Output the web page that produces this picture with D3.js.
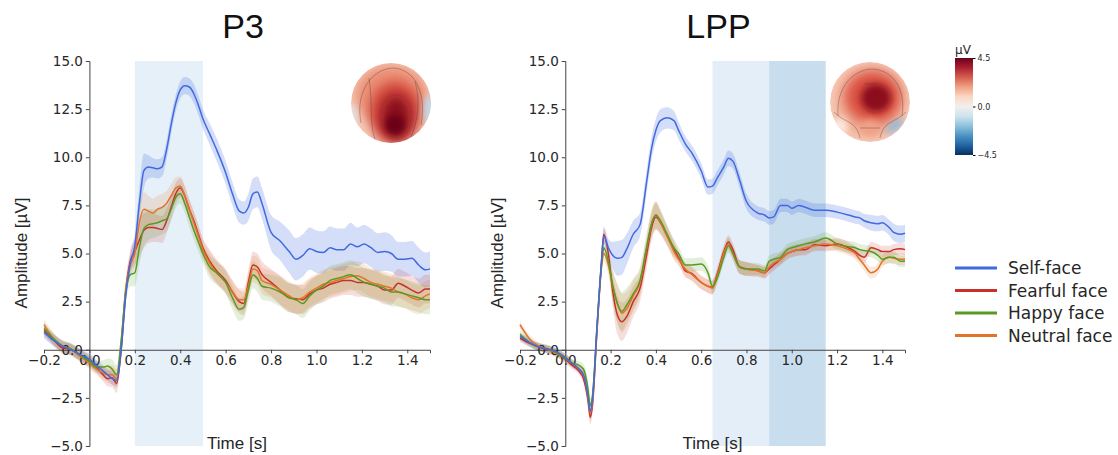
<!DOCTYPE html>
<html>
<head>
<meta charset="utf-8">
<script src="https://cdn.jsdelivr.net/npm/d3@7"></script>
<style>
  body { margin: 0; background: #fff; }
  svg { display: block; }
  .tick text { font-family: "DejaVu Sans", sans-serif; font-size: 13.5px; fill: #262626; }
</style>
</head>
<body>
<div id="canvas"></div>
<script>
// ---- data ----
const conditions = ["Self-face", "Fearful face", "Happy face", "Neutral face"];
const colors = ["#4169e1", "#c8302a", "#5a9a22", "#e2742a"];
const xTicks = [-0.2, 0, 0.2, 0.4, 0.6, 0.8, 1.0, 1.2, 1.4];
const yTicks = [-5, -2.5, 0, 2.5, 5, 7.5, 10, 12.5, 15];
const cbarTicks = [4.5, 0, -4.5];

// P3 panel
const p3Time = [-0.2,-0.16,-0.12,-0.08,-0.04,0,0.03,0.06,0.08,0.1,0.12,0.14,0.16,0.18,0.2,0.22,0.24,0.26,0.28,0.3,
  0.32,0.34,0.36,0.38,0.4,0.42,0.44,0.46,0.48,0.5,0.53,0.56,0.6,0.63,0.66,0.68,0.7,0.72,0.74,0.76,
  0.8,0.84,0.88,0.91,0.94,0.97,1.0,1.03,1.06,1.09,1.12,1.15,1.18,1.21,1.24,1.27,1.3,1.33,1.36,1.39,
  1.42,1.45,1.48,1.5];
const p3Self = [0.9,0.5,0.2,0.0,-0.25,-0.5,-0.8,-1.1,-1.3,-1.5,-1.6,0.0,2.8,4.5,5.4,7.6,9.3,9.5,9.45,9.4,
  9.5,10.4,11.7,12.8,13.5,13.72,13.65,13.3,12.7,12.0,11.2,10.4,9.2,8.1,7.2,7.1,7.4,8.1,8.2,7.6,
  6.1,5.65,5.1,4.7,4.9,5.25,5.1,5.05,5.3,5.2,5.2,5.5,5.35,5.5,5.3,5.05,5.1,5.0,4.7,4.7,
  4.75,4.4,4.15,4.2];
const p3Fearful = [1.0,0.55,0.1,0.0,-0.3,-0.6,-0.9,-1.3,-1.5,-1.45,-1.75,0.0,3.0,4.6,5.1,5.7,6.2,6.35,6.35,6.3,
  6.25,6.7,7.4,8.1,8.4,8.0,7.3,6.7,6.0,5.3,4.6,4.1,3.6,3.0,2.5,2.4,3.5,4.4,4.3,3.9,
  3.5,3.1,2.7,2.65,2.6,2.9,3.1,3.2,3.4,3.5,3.6,3.6,3.5,3.5,3.4,3.3,3.1,3.1,3.45,3.3,
  3.1,2.95,3.15,3.15];
const p3Happy = [1.1,0.6,0.2,0.05,-0.3,-0.6,-0.9,-0.9,-0.85,-1.0,-1.3,0.5,3.0,3.9,4.0,5.3,6.3,6.5,6.55,6.6,
  6.7,6.8,7.3,7.9,8.1,7.6,6.9,6.2,5.6,5.0,4.3,4.0,3.5,2.7,2.1,2.2,3.1,3.9,3.7,3.3,
  3.2,3.0,2.7,2.6,2.4,2.8,3.1,3.3,3.6,3.7,3.8,3.9,3.7,3.5,3.4,3.3,3.2,3.0,3.0,2.9,
  2.8,2.7,2.6,2.6];
const p3Neutral = [1.3,0.6,0.2,0.0,-0.35,-0.7,-1.0,-1.2,-1.3,-1.3,-1.5,0.3,3.2,4.4,5.0,6.6,7.3,7.2,7.1,7.3,
  7.4,7.6,8.0,8.4,8.5,8.0,7.3,6.6,5.9,5.2,4.5,4.0,3.5,3.0,2.6,2.6,3.3,4.2,4.1,3.6,
  3.4,3.1,2.8,2.6,2.7,3.0,3.2,3.4,3.5,3.6,3.7,3.8,3.85,3.7,3.5,3.4,3.3,3.2,3.0,2.9,
  2.7,2.6,2.8,2.9];
const p3SelfBand = [0.3,0.3,0.3,0.3,0.3,0.3,0.3,0.3,0.3,0.3,0.3,0.3,0.4,0.5,0.6,0.8,0.9,0.6,0.5,0.5,
  0.5,0.5,0.5,0.45,0.45,0.45,0.45,0.5,0.5,0.5,0.55,0.6,0.6,0.6,0.6,0.6,0.7,0.8,0.8,0.8,
  0.9,1.0,1.1,1.1,1.1,1.1,1.1,1.1,1.1,1.1,1.1,1.1,1.0,1.0,1.0,1.0,1.0,0.95,0.9,0.9,
  0.9,0.9,0.9,0.9];
const p3OtherBand = [0.3,0.3,0.3,0.3,0.3,0.3,0.3,0.35,0.4,0.5,0.5,0.4,0.5,0.6,0.7,0.9,0.9,0.8,0.75,0.7,
  0.7,0.65,0.6,0.55,0.5,0.5,0.5,0.5,0.5,0.5,0.6,0.6,0.6,0.6,0.6,0.6,0.65,0.7,0.7,0.7,
  0.7,0.75,0.75,0.75,0.75,0.75,0.75,0.75,0.75,0.75,0.75,0.75,0.75,0.75,0.75,0.75,0.75,0.75,0.75,0.75,
  0.75,0.75,0.75,0.75];

// LPP panel
const lppTime = [-0.2,-0.16,-0.12,-0.08,-0.04,0,0.03,0.06,0.08,0.1,0.11,0.12,0.14,0.16,0.17,0.19,0.21,0.23,0.25,0.27,
  0.3,0.33,0.36,0.38,0.4,0.42,0.45,0.48,0.5,0.53,0.56,0.6,0.63,0.65,0.67,0.7,0.72,0.74,0.77,0.8,
  0.85,0.88,0.9,0.92,0.95,0.98,1.0,1.03,1.06,1.1,1.15,1.2,1.25,1.28,1.3,1.32,1.35,1.38,1.4,1.43,
  1.45,1.48,1.5];
const lppSelf = [0.7,0.4,0.15,0.05,-0.1,-0.4,-0.7,-1.0,-1.3,-2.4,-3.2,-2.6,1.2,4.6,5.9,5.3,4.9,4.75,4.8,5.2,
  6.0,6.5,8.8,10.4,11.4,11.9,12.05,11.9,11.4,10.7,10.2,9.3,8.45,8.5,8.9,9.5,9.95,9.8,8.8,7.7,
  7.1,7.0,6.85,6.9,7.5,7.5,7.35,7.5,7.4,7.25,7.25,7.15,7.0,6.9,6.85,6.7,6.6,6.55,6.6,6.35,
  6.1,6.0,6.05];
const lppFearful = [0.6,0.35,0.15,0.0,-0.15,-0.5,-0.8,-1.1,-1.5,-2.6,-3.5,-2.9,1.0,4.6,6.0,5.0,3.0,1.8,1.45,1.7,
  2.5,3.2,5.0,6.3,6.9,6.6,5.9,5.2,4.8,4.1,3.95,3.5,3.3,3.25,3.9,5.1,5.6,5.2,4.3,4.2,
  4.1,4.0,4.2,4.4,4.7,5.0,5.1,5.2,5.2,5.45,5.4,5.5,5.3,5.1,4.9,4.8,5.3,5.2,5.1,5.1,
  5.2,5.25,5.2];
const lppHappy = [0.8,0.4,0.15,0.05,-0.15,-0.45,-0.7,-0.8,-1.0,-2.0,-2.9,-2.4,1.2,4.4,5.3,4.6,3.3,2.4,2.0,2.3,
  2.9,3.6,5.4,6.5,7.0,6.7,6.0,5.3,5.0,4.4,4.4,4.45,4.0,3.3,3.7,4.8,5.4,5.0,4.3,4.2,
  4.2,4.1,4.6,4.7,4.8,5.2,5.3,5.4,5.5,5.6,5.8,5.5,5.35,5.3,5.2,5.15,5.1,4.9,4.7,4.8,
  4.8,4.6,4.6];
const lppNeutral = [1.3,0.6,0.2,0.05,-0.2,-0.4,-0.7,-1.0,-1.3,-2.4,-3.3,-2.7,1.0,4.3,5.0,4.4,3.3,2.4,1.9,2.1,
  2.8,3.5,5.3,6.5,7.0,6.6,5.9,5.1,4.7,4.2,3.9,3.5,3.3,3.2,3.8,5.0,5.5,5.0,4.3,4.2,
  4.1,4.0,4.3,4.5,4.7,5.0,5.1,5.2,5.3,5.4,5.5,5.4,5.2,5.0,4.7,4.4,4.0,4.2,4.6,4.8,
  4.75,4.7,4.7];
const lppSelfBand = [0.2,0.2,0.2,0.2,0.2,0.2,0.2,0.2,0.25,0.4,0.4,0.4,0.4,0.4,0.4,0.45,0.7,0.9,0.9,0.8,
  0.7,0.6,0.6,0.6,0.6,0.6,0.55,0.5,0.45,0.4,0.4,0.4,0.4,0.4,0.4,0.4,0.4,0.4,0.4,0.4,
  0.35,0.35,0.35,0.35,0.35,0.35,0.35,0.35,0.35,0.35,0.35,0.35,0.35,0.35,0.35,0.35,0.4,0.4,0.4,0.4,
  0.45,0.45,0.45];
const lppOtherBand = [0.2,0.2,0.2,0.2,0.2,0.2,0.2,0.2,0.25,0.4,0.4,0.4,0.4,0.4,0.4,0.5,0.8,1.0,1.0,0.9,
  0.8,0.7,0.7,0.7,0.7,0.6,0.5,0.45,0.35,0.35,0.35,0.35,0.35,0.35,0.35,0.35,0.35,0.35,0.35,0.35,
  0.3,0.3,0.3,0.3,0.3,0.3,0.3,0.3,0.3,0.3,0.3,0.3,0.3,0.3,0.3,0.3,0.3,0.3,0.3,0.3,
  0.3,0.3,0.3];

// shaded windows [start, end, colour]
const p3Windows = [[0.2, 0.5, "#e6f0f9"]];
const lppWindows = [[0.65, 0.9, "#e4eef8"], [0.9, 1.15, "#c8ddee"]];

const width = 1118;
const height = 455;

const svg = d3.select("#canvas").append("svg")
  .attr("width", width)
  .attr("height", height);

const defs = svg.append("defs");
defs.append("filter").attr("id", "blur6").attr("x", "-50%").attr("y", "-50%").attr("width", "200%").attr("height", "200%")
  .append("feGaussianBlur").attr("stdDeviation", 6);
defs.append("filter").attr("id", "blur3").attr("x", "-50%").attr("y", "-50%").attr("width", "200%").attr("height", "200%")
  .append("feGaussianBlur").attr("stdDeviation", 3);

const panels = [
  { title: "P3", time: p3Time, series: [p3Self, p3Fearful, p3Happy, p3Neutral],
    bands: [p3SelfBand, p3OtherBand, p3OtherBand, p3OtherBand], windows: p3Windows,
    left: 44, right: 430, ylab: 21, topo: { cx: 391, cy: 103, r: 40 }, kind: "p3" },
  { title: "LPP", time: lppTime, series: [lppSelf, lppFearful, lppHappy, lppNeutral],
    bands: [lppSelfBand, lppOtherBand, lppOtherBand, lppOtherBand], windows: lppWindows,
    left: 520, right: 905, ylab: 497, topo: { cx: 870, cy: 102, r: 40 }, kind: "lpp" }
];

panels.forEach((p, pi) => {
  const x = d3.scaleLinear().domain([-0.2, 1.5]).range([p.left, p.right]);
  const y = d3.scaleLinear().domain([-5, 15]).range([446, 61]);
  const g = svg.append("g");

  // highlighted time windows
  g.selectAll("rect.win").data(p.windows).enter().append("rect")
    .attr("class", "win")
    .attr("x", d => x(d[0]))
    .attr("width", d => x(d[1]) - x(d[0]))
    .attr("y", y(15))
    .attr("height", y(-5) - y(15))
    .style("fill", d => d[2]);

  // confidence bands
  const area = (vals, band) => d3.area()
    .curve(d3.curveMonotoneX)
    .x((d, i) => x(p.time[i]))
    .y0((d, i) => y(vals[i] - band[i]))
    .y1((d, i) => y(vals[i] + band[i]));

  p.series.forEach((vals, k) => {
    g.append("path")
      .attr("d", area(vals, p.bands[k])(vals))
      .style("fill", colors[k])
      .style("opacity", k === 0 ? 0.22 : 0.16);
  });

  // axes (spines sit at zero)
  g.append("g")
    .attr("transform", `translate(0,${y(0)})`)
    .call(d3.axisBottom(x).tickValues(xTicks).tickFormat(d3.format(".1f")).tickSize(3.5).tickPadding(2))
    .call(a => a.select(".domain").attr("stroke", "#444"))
    .call(a => a.selectAll(".tick line").attr("stroke", "#444"));

  g.append("g")
    .attr("transform", `translate(${x(0)},0)`)
    .call(d3.axisLeft(y).tickValues(yTicks).tickFormat(d3.format(".1f")).tickSize(3.5).tickPadding(3))
    .call(a => a.select(".domain").attr("stroke", "#444"))
    .call(a => a.selectAll(".tick line").attr("stroke", "#444"));

  // mean waveforms
  const line = d3.line()
    .curve(d3.curveMonotoneX)
    .x((d, i) => x(p.time[i]))
    .y(d => y(d));

  [1, 3, 2, 0].forEach(k => {
    g.append("path")
      .attr("d", line(p.series[k]))
      .style("fill", "none")
      .style("stroke", colors[k])
      .style("stroke-width", 1.5)
      .style("stroke-linejoin", "round");
  });

  // labels
  g.append("text")
    .attr("x", (p.left + p.right) / 2 + 6)
    .attr("y", 38)
    .attr("text-anchor", "middle")
    .style("font-family", "Liberation Sans, Arial, sans-serif")
    .style("font-size", "34px")
    .style("fill", "#111")
    .text(p.title);

  g.append("text")
    .attr("transform", `translate(${p.ylab},253) rotate(-90)`)
    .attr("text-anchor", "middle")
    .attr("dominant-baseline", "central")
    .style("font-family", "Liberation Sans, Arial, sans-serif")
    .style("font-size", "17px")
    .style("fill", "#262626")
    .text("Amplitude [µV]");

  g.append("text")
    .attr("x", (p.left + p.right) / 2)
    .attr("y", 449)
    .attr("text-anchor", "middle")
    .style("font-family", "Liberation Sans, Arial, sans-serif")
    .style("font-size", "17px")
    .style("fill", "#262626")
    .text("Time [s]");

  // scalp topography inset
  const t = p.topo;
  const clipId = "clip" + pi;
  defs.append("clipPath").attr("id", clipId)
    .append("circle").attr("cx", t.cx).attr("cy", t.cy).attr("r", t.r);
  const tg = g.append("g").attr("clip-path", `url(#${clipId})`);
  tg.append("circle").attr("cx", t.cx).attr("cy", t.cy).attr("r", t.r).style("fill", "#f6cbb8");

  const blobs = p.kind === "p3" ? [
    { dx: 0, dy: -8, rx: 36, ry: 30, c: "#eb8f74", f: "blur6" },
    { dx: 4, dy: 10, rx: 26, ry: 32, c: "#d2483c", f: "blur6" },
    { dx: 5, dy: 14, rx: 15, ry: 22, c: "#8a0a1c", f: "blur6" },
    { dx: 4, dy: 22, rx: 10, ry: 10, c: "#6a0016", f: "blur3" },
    { dx: 38, dy: 6, rx: 5, ry: 14, c: "#bcd9ea", f: "blur3" },
    { dx: -39, dy: 12, rx: 4, ry: 10, c: "#d9e8f1", f: "blur3" }
  ] : [
    { dx: 0, dy: 0, rx: 34, ry: 36, c: "#f1ad94", f: "blur6" },
    { dx: 3, dy: -5, rx: 28, ry: 26, c: "#d9503f", f: "blur6" },
    { dx: 6, dy: -4, rx: 15, ry: 14, c: "#8c0b1f", f: "blur3" },
    { dx: 0, dy: 26, rx: 10, ry: 8, c: "#f0a287", f: "blur3" },
    { dx: 25, dy: 24, rx: 11, ry: 4, c: "#8cbcdc", f: "blur3", rot: -35 },
    { dx: -30, dy: 24, rx: 8, ry: 8, c: "#fbe6dc", f: "blur3" }
  ];
  blobs.forEach(b => {
    tg.append("ellipse")
      .attr("cx", t.cx + b.dx).attr("cy", t.cy + b.dy)
      .attr("rx", b.rx).attr("ry", b.ry)
      .attr("transform", b.rot ? `rotate(${b.rot},${t.cx + b.dx},${t.cy + b.dy})` : null)
      .attr("filter", `url(#${b.f})`)
      .style("fill", b.c);
  });
  // faint sensor outlines
  const outline = p.kind === "p3" ? [
    `M${t.cx - 30},${t.cy + 20} C${t.cx - 36},${t.cy - 10} ${t.cx - 20},${t.cy - 34} ${t.cx + 2},${t.cy - 35} C${t.cx + 24},${t.cy - 34} ${t.cx + 36},${t.cy - 10} ${t.cx + 30},${t.cy + 22}`,
    `M${t.cx - 22},${t.cy - 25} C${t.cx - 18},${t.cy} ${t.cx - 22},${t.cy + 20} ${t.cx - 16},${t.cy + 36}`,
    `M${t.cx + 24},${t.cy - 22} C${t.cx + 30},${t.cy} ${t.cx + 26},${t.cy + 20} ${t.cx + 20},${t.cy + 34}`
  ] : [
    `M${t.cx - 32},${t.cy + 14} C${t.cx - 34},${t.cy - 14} ${t.cx - 18},${t.cy - 32} ${t.cx + 2},${t.cy - 33} C${t.cx + 24},${t.cy - 32} ${t.cx + 36},${t.cy - 12} ${t.cx + 32},${t.cy + 14}`,
    `M${t.cx - 36},${t.cy + 10} C${t.cx - 24},${t.cy + 22} ${t.cx - 14},${t.cy + 18} ${t.cx - 10},${t.cy + 36}`,
    `M${t.cx + 36},${t.cy + 10} C${t.cx + 24},${t.cy + 22} ${t.cx + 14},${t.cy + 18} ${t.cx + 10},${t.cy + 36}`,
    `M${t.cx - 10},${t.cy + 26} L${t.cx + 10},${t.cy + 26}`,
    `M${t.cx - 6},${t.cy - 18} L${t.cx + 8},${t.cy - 18}`
  ];
  tg.selectAll("path.ol").data(outline).enter().append("path")
    .attr("class", "ol")
    .attr("d", d => d)
    .style("fill", "none")
    .style("stroke", "#4a3a3a")
    .style("stroke-width", 0.6)
    .style("opacity", 0.6);
});

// colorbar
const cbY = d3.scaleLinear().domain([-4.5, 4.5]).range([155, 58]);
const grad = defs.append("linearGradient").attr("id", "cbar")
  .attr("x1", 0).attr("y1", 1).attr("x2", 0).attr("y2", 0);
d3.range(0, 1.0001, 0.1).forEach(s => {
  grad.append("stop").attr("offset", s).attr("stop-color", d3.interpolateRdBu(1 - s));
});
svg.append("rect")
  .attr("x", 955).attr("y", cbY(4.5))
  .attr("width", 18).attr("height", cbY(-4.5) - cbY(4.5))
  .style("fill", "url(#cbar)");
svg.append("g")
  .attr("transform", "translate(973,0)")
  .call(d3.axisRight(cbY).tickValues(cbarTicks).tickFormat(d3.format(".1f")).tickSize(2.5).tickPadding(2))
  .call(a => a.select(".domain").remove())
  .call(a => a.selectAll(".tick text").style("font-size", "8px"));
svg.append("text")
  .attr("x", 963).attr("y", 54)
  .attr("text-anchor", "middle")
  .style("font-family", "DejaVu Sans, sans-serif")
  .style("font-size", "12px")
  .style("fill", "#262626")
  .text("µV");

// legend
const legend = svg.append("g").attr("transform", "translate(955,268)");
conditions.forEach((c, i) => {
  const row = legend.append("g").attr("transform", `translate(0,${i * 22.5})`);
  row.append("line")
    .attr("x1", 0).attr("x2", 42)
    .style("stroke", colors[i])
    .style("stroke-width", 3);
  row.append("text")
    .attr("x", 53).attr("y", 0)
    .attr("dominant-baseline", "central")
    .style("font-family", "DejaVu Sans, sans-serif")
    .style("font-size", "17px")
    .style("fill", "#262626")
    .text(c);
});
</script>
</body>
</html>
